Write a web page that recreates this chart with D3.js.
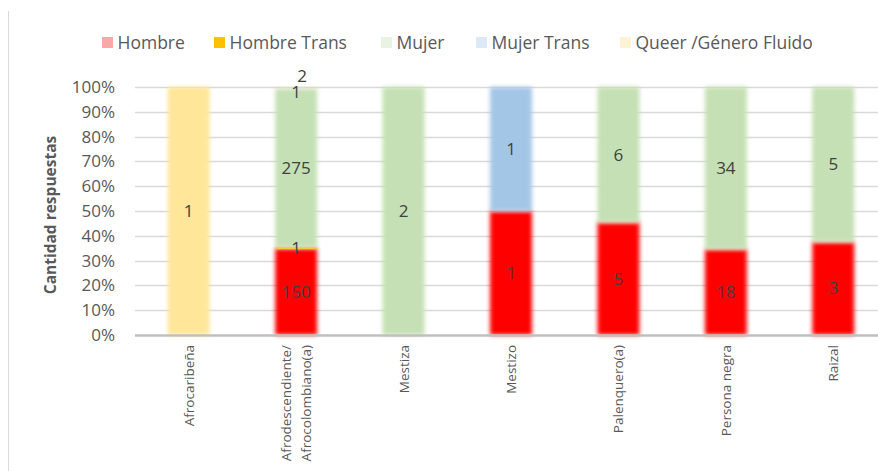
<!DOCTYPE html>
<html><head><meta charset="utf-8">
<script src="https://cdn.jsdelivr.net/npm/d3@7"></script>
<style>
body{margin:0;background:#fff;}
svg{display:block;font-family:"Open Sans",sans-serif;}
</style></head>
<body><svg id="c" width="878" height="471"></svg>
<script>
const categories = ["Afrocaribeña","Afrodescendiente/\nAfrocolombiano(a)","Mestiza","Mestizo","Palenquero(a)","Persona negra","Raizal"];
const seriesNames = ["Hombre","Hombre Trans","Mujer","Mujer Trans","Queer /Género Fluido"];
const hombre      = [0,150,0,1,5,18,3];
const hombreTrans = [0,1,0,0,0,0,0];
const mujer       = [0,275,2,0,6,34,5];
const mujerTrans  = [0,1,0,1,0,0,0];
const queer       = [1,2,0,0,0,0,0];
const yTicks = [0,0.1,0.2,0.3,0.4,0.5,0.6,0.7,0.8,0.9,1];
const colors = ["#ff0000","#ffc000","#c5e0b4","#a4c6e6","#ffe699"];
const legendColors = ["#f9a7a7","#ffc000","#e8f3e1","#dce9f6","#fff3d6"];

const svg = d3.select("#c");
const W=878,H=471;
const m={l:135,r:-9,t:87,b:136};
const x = d3.scaleBand().domain(categories).range([m.l, W-m.r]).paddingInner(0.61).paddingOuter(0.305);
const y = d3.scaleLinear().domain([0,1]).range([H-m.b, m.t]);

const defs = svg.append("defs");
const f = defs.append("filter").attr("id","soft").attr("x","-20%").attr("y","-20%").attr("width","140%").attr("height","140%");
f.append("feGaussianBlur").attr("stdDeviation",2);

// chart border line on left
svg.append("line").attr("x1",8.5).attr("x2",8.5).attr("y1",11).attr("y2",471).attr("stroke","#d9d9d9");

// gridlines
svg.append("g").selectAll("line").data(yTicks.filter(d=>d>0)).join("line")
  .attr("x1",m.l).attr("x2",W).attr("y1",d=>Math.round(y(d))+0.5).attr("y2",d=>Math.round(y(d))+0.5)
  .attr("stroke","#d9d9d9").attr("stroke-width",1.3);

// y axis labels
const yAxis = d3.axisLeft(y).tickValues(yTicks).tickFormat(d3.format(".0%")).tickSize(0).tickPadding(20);
const ya = svg.append("g").attr("transform",`translate(${m.l},0)`).call(yAxis);
ya.select(".domain").remove();
ya.selectAll("text").attr("font-size",17).attr("fill","#595959").attr("font-family","Open Sans");

// axis title
svg.append("text").attr("transform",`translate(56,${(y(0)+y(1))/2+4}) rotate(-90)`)
  .attr("text-anchor","middle").attr("font-size",15.5).attr("font-weight","bold").attr("fill","#595959")
  .text("Cantidad respuestas");

// stacked data
const rows = categories.map((c,i)=>{
  const vals=[hombre[i],hombreTrans[i],mujer[i],mujerTrans[i],queer[i]];
  const tot=d3.sum(vals);
  const o={cat:c,total:tot};
  seriesNames.forEach((s,j)=>o[s]=vals[j]/tot);
  o.raw=vals;
  return o;
});
const stack = d3.stack().keys(seriesNames)(rows);

const bars = svg.append("g");
stack.forEach((layer,j)=>{
  bars.append("g").selectAll("rect").data(layer.filter(d=>d[1]-d[0]>0)).join("rect")
    .attr("x",d=>x(d.data.cat)).attr("width",x.bandwidth())
    .attr("y",d=>y(d[1])).attr("height",d=>Math.max(y(d[0])-y(d[1]), j===1?1.5:0))
    .attr("fill",colors[j])
    .attr("filter", j===1?null:"url(#soft)");
});

// baseline
svg.append("line").attr("x1",m.l).attr("x2",W).attr("y1",y(0)+0.5).attr("y2",y(0)+0.5)
  .attr("stroke","#bfbfbf").attr("stroke-width",2.6);

// data labels
const labels = svg.append("g").attr("font-size",17).attr("fill","#404040").attr("text-anchor","middle");
stack.forEach((layer,j)=>{
  layer.forEach((d,i)=>{
    const v=d.data.raw[j];
    if(!v) return;
    let cx=x(d.data.cat)+x.bandwidth()/2, cy=(y(d[0])+y(d[1]))/2;
    let dx=0, dy=0;
    if(j===4 && d[1]-d[0]<0.02){dx=6;dy=-12;}
    if(j===3 && d[1]-d[0]<0.02){dy=4;}
    labels.append("text").attr("x",cx+dx).attr("y",cy+dy).attr("dy","0.35em").text(v);
  });
});

// category labels
const xl = svg.append("g").attr("font-size",13.5).attr("fill","#595959");
categories.forEach(c=>{
  const lines=c.split("\n");
  const cx=x(c)+x.bandwidth()/2;
  const n=lines.length;
  lines.forEach((t,k)=>{
    const off=(k-(n-1)/2)*20;
    xl.append("text").attr("transform",`translate(${cx+off+5},${y(0)+10}) rotate(-90)`)
      .attr("text-anchor","end").text(t);
  });
});

// legend
const legX=[102,214,381,476,620];
const lg=svg.append("g");
seriesNames.forEach((s,j)=>{
  lg.append("rect").attr("x",legX[j]).attr("y",37).attr("width",11).attr("height",11).attr("fill",legendColors[j]);
  lg.append("text").attr("x",legX[j]+15.5).attr("y",43).attr("dy","0.35em").attr("font-size",17.5).attr("fill","#595959").text(s);
});
</script></body></html>
